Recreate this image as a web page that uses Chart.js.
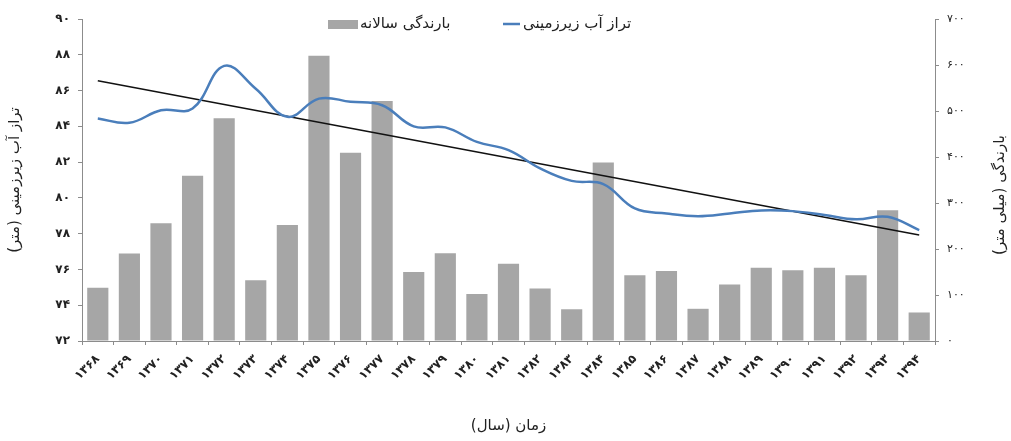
<!DOCTYPE html>
<html>
<head>
<meta charset="utf-8">
<script src="https://cdn.jsdelivr.net/npm/chart.js@4.4.1/dist/chart.umd.min.js"></script>
<style>
  html, body { margin: 0; padding: 0; background: #fff; }
  #wrap { width: 1011px; height: 441px; }
</style>
</head>
<body>
<div id="wrap"><canvas id="chart" width="1011" height="441" dir="rtl"></canvas></div>
<script>
// سال‌ها (محور افقی)
const years = ['۱۳۶۸', '۱۳۶۹', '۱۳۷۰', '۱۳۷۱', '۱۳۷۲', '۱۳۷۳', '۱۳۷۴', '۱۳۷۵', '۱۳۷۶',
    '۱۳۷۷', '۱۳۷۸', '۱۳۷۹', '۱۳۸۰', '۱۳۸۱', '۱۳۸۲', '۱۳۸۳', '۱۳۸۴', '۱۳۸۵',
    '۱۳۸۶', '۱۳۸۷', '۱۳۸۸', '۱۳۸۹', '۱۳۹۰', '۱۳۹۱', '۱۳۹۲', '۱۳۹۳', '۱۳۹۴'];

// بارندگی سالانه (میلی متر)
const rainfall = [116, 190, 256, 359, 484, 132, 252, 620, 409, 522, 150, 191, 102, 168,
    114, 69, 388, 143, 152, 70, 123, 159, 154, 159, 143, 284, 62];

// تراز آب زیرزمینی (متر)
const groundwater = [84.44, 84.2, 84.9, 85.0, 87.38, 86.1, 84.53, 85.55, 85.37, 85.18,
    84.0, 83.94, 83.13, 82.67, 81.65, 80.95, 80.77, 79.41, 79.13, 78.98, 79.13, 79.3,
    79.26, 79.04, 78.8, 78.94, 78.2];

// خط روند (ابتدا و انتها)
const trendValues = [86.55, 77.92];

const legendLabels = ['بارندگی سالانه', 'تراز آب زیرزمینی'];
const axisTitles = ['تراز آب زیرزمینی (متر)', 'بارندگی (میلی متر)', 'زمان (سال)'];

const barColor = '#a6a6a6';
const lineColor = '#4a7ebb';
const axisColor = '#8c8c8c';
const textColor = '#222';
const fontFamily = '"DejaVu Sans", sans-serif';

function toFa(n) {
    return String(n).replace(/[0-9]/g, d => '۰۱۲۳۴۵۶۷۸۹'[d]);
}

// لژند و عنوان محور راست
const extras = {
    id: 'extras',
    afterDraw(chart) {
        const ctx = chart.ctx;
        ctx.save();
        ctx.direction = 'rtl';
        ctx.textBaseline = 'middle';
        ctx.textAlign = 'left';
        ctx.font = '15px ' + fontFamily;

        ctx.fillStyle = barColor;
        ctx.fillRect(328, 20, 30, 9);
        ctx.fillStyle = textColor;
        ctx.fillText(legendLabels[0], 360, 24);

        ctx.strokeStyle = lineColor;
        ctx.lineWidth = 2.5;
        ctx.beginPath();
        ctx.moveTo(503, 24);
        ctx.lineTo(520, 24);
        ctx.stroke();
        ctx.fillText(legendLabels[1], 523, 24);

        ctx.translate(1000, 195);
        ctx.rotate(-Math.PI / 2);
        ctx.textAlign = 'center';
        ctx.font = '15px ' + fontFamily;
        ctx.fillText(axisTitles[1], 0, 0);
        ctx.restore();
    }
};

const ctx = document.getElementById('chart').getContext('2d');
const chart = new Chart(ctx, {
    data: {
        labels: years,
        datasets: [
            {
                type: 'line',
                label: 'trend',
                data: [{ x: years[0], y: trendValues[0] }, { x: years[years.length - 1], y: trendValues[1] }],
                borderColor: '#111',
                borderWidth: 1.5,
                pointRadius: 0,
                yAxisID: 'y',
                order: 2
            },
            {
                type: 'line',
                label: legendLabels[1],
                data: groundwater,
                borderColor: lineColor,
                borderWidth: 2.5,
                pointRadius: 0,
                tension: 0.4,
                yAxisID: 'y',
                order: 1
            },
            {
                type: 'bar',
                label: legendLabels[0],
                data: rainfall,
                backgroundColor: barColor,
                barPercentage: 0.67,
                categoryPercentage: 1,
                yAxisID: 'y1',
                order: 3
            }
        ]
    },
    options: {
        responsive: false,
        animation: false,
        devicePixelRatio: 1,
        layout: { padding: { top: 19, right: 0, bottom: 0, left: 0 } },
        plugins: {
            legend: { display: false },
            tooltip: { enabled: false }
        },
        scales: {
            x: {
                offset: true,
                grid: { drawOnChartArea: false, tickLength: 4, color: axisColor, offset: true },
                border: { color: axisColor },
                ticks: {
                    autoSkip: false,
                    maxRotation: 45,
                    minRotation: 45,
                    padding: 7,
                    color: textColor,
                    font: { family: fontFamily, size: 12, weight: 'bold' }
                },
                title: {
                    display: true,
                    text: axisTitles[2],
                    color: textColor,
                    font: { family: fontFamily, size: 15 },
                    padding: { top: 0, bottom: 6 }
                },
                afterFit(scale) { scale.height = 100; }
            },
            y: {
                position: 'left',
                min: 72,
                max: 90,
                grid: { drawOnChartArea: false, tickLength: 4, color: axisColor },
                border: { color: axisColor },
                ticks: {
                    stepSize: 2,
                    padding: 8,
                    color: textColor,
                    font: { family: fontFamily, size: 12, weight: 'bold' },
                    callback: v => toFa(v)
                },
                title: {
                    display: true,
                    text: axisTitles[0],
                    color: textColor,
                    font: { family: fontFamily, size: 15 },
                    padding: { top: 6, bottom: 0 }
                },
                afterFit(scale) { scale.width = 82; }
            },
            y1: {
                position: 'right',
                min: 0,
                max: 700,
                grid: { drawOnChartArea: false, tickLength: 4, color: axisColor },
                border: { color: axisColor },
                ticks: {
                    stepSize: 100,
                    padding: 8,
                    color: textColor,
                    font: { family: fontFamily, size: 11 },
                    callback: v => toFa(v)
                },
                afterFit(scale) { scale.width = 76; }
            }
        }
    },
    plugins: [extras]
});
</script>
</body>
</html>
